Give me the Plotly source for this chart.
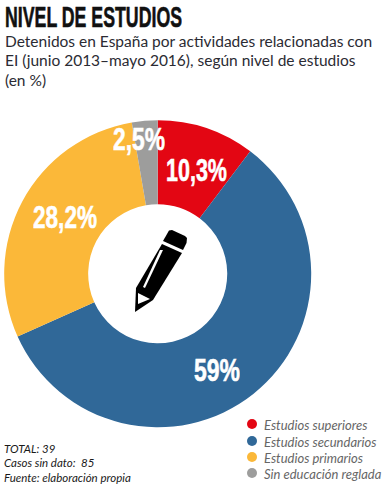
import json
import plotly.graph_objects as go

W, H = 391, 495
categories = ["Estudios superiores", "Estudios secundarios", "Estudios primarios", "Sin educación reglada"]
values = [10.3, 58, 29, 2.7]
value_labels = ["10,3%", "59%", "28,2%", "2,5%"]
colors = ["#E30613", "#306898", "#FBB839", "#9D9D9C"]
title = "NIVEL DE ESTUDIOS"
subtitle = ["Detenidos en España por actividades relacionadas con",
            "EI (junio 2013–mayo 2016), según nivel de estudios",
            "(en %)"]
notes = ["TOTAL: 39", "Casos sin dato:  85", "Fuente: elaboración propia"]

px = lambda x: x / W
py = lambda y: 1 - y / H
COND = "Liberation Sans, Arial, sans-serif"
BODY = "Lato, sans-serif"

fig = go.Figure(go.Pie(
    labels=categories, values=values,
    textinfo="none",
    marker=dict(colors=colors, line=dict(width=0)),
    sort=False, direction="clockwise", rotation=0, hole=0.453,
    domain=dict(x=[px(4.2), px(311.2)], y=[py(427.3), py(120.3)]),
    showlegend=False, hoverinfo="skip",
))

condensed = {title: 177}
ann = [dict(x=px(93.5), y=py(17), text=title, showarrow=False, xanchor="center", yanchor="middle",
            width=177, font=dict(family=COND, size=29, color="#111111", weight="bold"))]
for t, y in zip(subtitle, [41, 60, 80]):
    ann.append(dict(x=px(3), y=py(y), text=t, showarrow=False, xanchor="left", yanchor="middle",
                    font=dict(family=BODY, size=15.5, color="#2b2b33")))
for t, y in zip(notes, [448, 462, 477]):
    ann.append(dict(x=px(2), y=py(y), text=t, showarrow=False, xanchor="left", yanchor="middle",
                    font=dict(family=BODY, size=11.5, color="#1a1a1a", style="italic")))
for t, (x, y), w in zip(value_labels, [(196.5, 170), (217, 369.5), (65, 217), (139, 139)], [61, 46, 64, 52]):
    condensed[t] = w
    ann.append(dict(x=px(x), y=py(y), text=t, showarrow=False, xanchor="center", yanchor="middle",
                    width=w, font=dict(family=COND, size=32, color="white", weight="bold")))
shapes = []
for c, col, y in zip(categories, colors, [424, 441, 457, 473]):
    ann.append(dict(x=px(262), y=py(y + 1), text=c, showarrow=False, xanchor="left", yanchor="middle",
                    font=dict(family=BODY, size=13, color="#666666", style="italic")))
    shapes.append(dict(type="circle", xref="paper", yref="paper", fillcolor=col, line_width=0,
                       x0=px(247), x1=px(257), y0=py(y + 5), y1=py(y - 5)))

def path(points):
    return "M " + " L ".join(f"{px(x):.5f} {py(y):.5f}" for x, y in points) + " Z"

def poly(points, fill):
    shapes.append(dict(type="path", xref="paper", yref="paper", fillcolor=fill, line_width=0, path=path(points)))

poly([(169, 230.5), (172, 230), (185, 236), (187, 238), (186.5, 243), (183, 250), (163, 241)], "black")
poly([(162, 244), (182, 253), (153, 300), (135, 312), (136, 288)], "black")
poly([(160, 250), (163, 250), (145, 288), (143, 287)], "white")
poly([(138, 293), (150, 299), (138, 304)], "white")

fig.update_layout(width=W, height=H, margin=dict(l=0, r=0, t=0, b=0),
                  paper_bgcolor="white", plot_bgcolor="white",
                  annotations=ann, shapes=shapes, showlegend=False)

post = """
document.body.style.margin = '0';
var targets = %s;
document.querySelectorAll('text.annotation-text').forEach(function (t) {
  var w = targets[t.textContent];
  if (w) {
    t.setAttribute('textLength', w);
    t.setAttribute('lengthAdjust', 'spacingAndGlyphs');
    t.style.stroke = t.style.fill || 'currentColor';
    t.style.strokeWidth = '0.6px';
  }
});
""" % json.dumps(condensed, ensure_ascii=False)
fig.write_html("out.html", config=dict(displayModeBar=False), post_script=post)
